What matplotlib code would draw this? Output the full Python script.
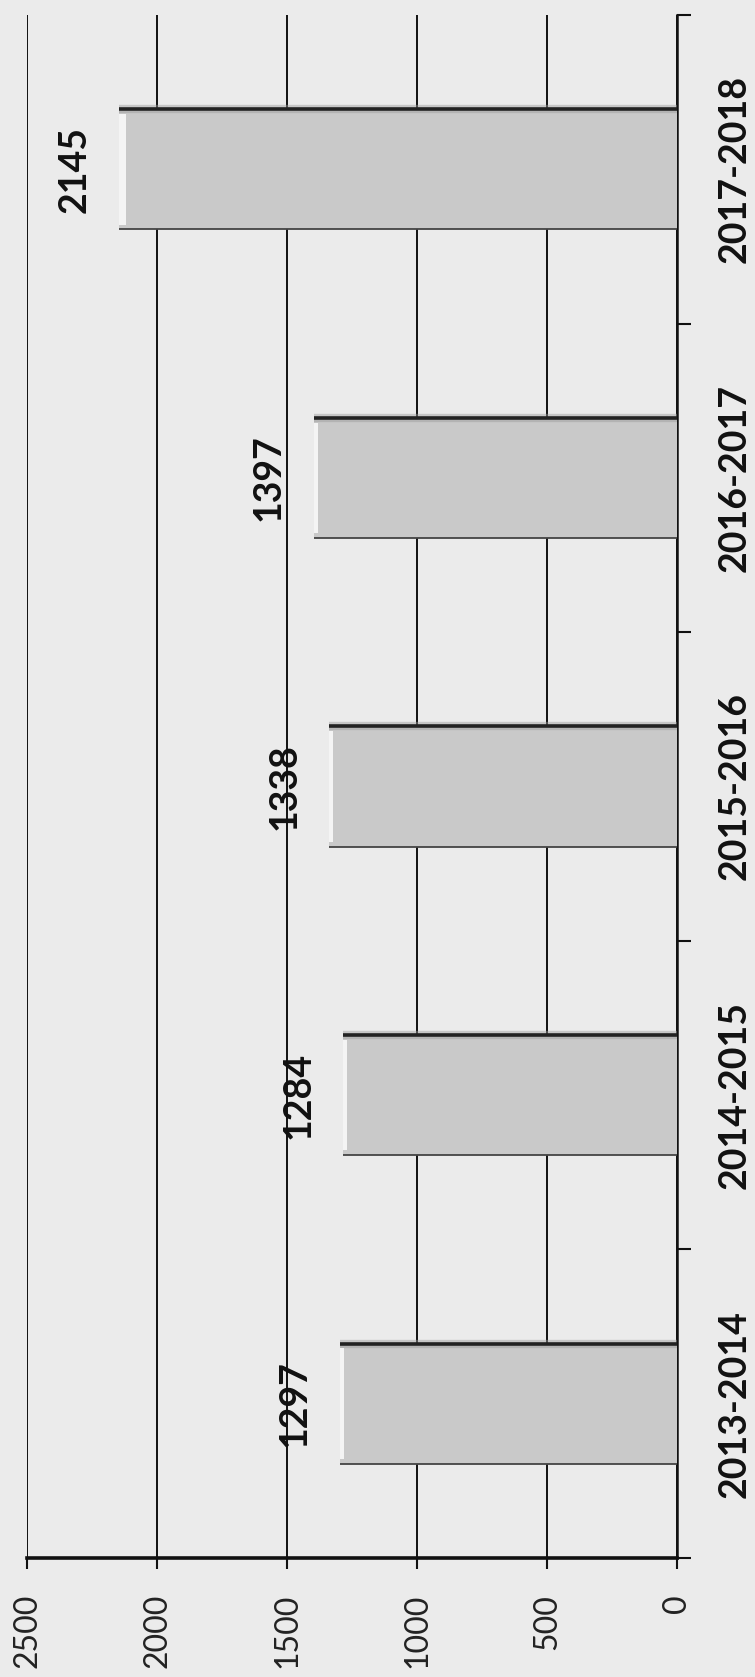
import matplotlib
matplotlib.use("Agg")
import matplotlib.pyplot as plt
from matplotlib.ticker import FixedLocator, NullFormatter

# ---- data ----
categories = ["2013-2014", "2014-2015", "2015-2016", "2016-2017", "2017-2018"]
values = [1297, 1284, 1338, 1397, 2145]
value_ticks = [0, 500, 1000, 1500, 2000, 2500]
value_tick_labels = ["0", "500", "1000", "1500", "2000", "2500"]

W, H, DPI = 755, 1677, 100
bg = "#ebebeb"
fig = plt.figure(figsize=(W / DPI, H / DPI), dpi=DPI, facecolor=bg)
ax = fig.add_axes([27 / W, (H - 1558) / H, (677 - 27) / W, (1558 - 15) / H])
ax.set_facecolor(bg)

ypos = list(range(len(categories)))
bar_h = 0.39
bars = ax.barh(ypos, values, height=bar_h, color="#c9c9c9", edgecolor="none", zorder=3)

# 3D-ish bar edges derived from the patches
for p in bars:
    x0, y0 = p.get_x(), p.get_y()
    w, h = p.get_width(), p.get_height()
    # top (dark, with soft shadow)
    ax.plot([x0, x0 + w], [y0 + h, y0 + h], color="#9a9a9a", lw=6, alpha=0.45,
            solid_capstyle="butt", zorder=4)
    ax.plot([x0, x0 + w], [y0 + h, y0 + h], color="#222222", lw=2.6,
            solid_capstyle="butt", zorder=5)
    # bottom edge
    ax.plot([x0, x0 + w], [y0, y0], color="#444444", lw=1.3,
            solid_capstyle="butt", zorder=5)
    # light highlight at the bar end
    ax.barh(p.get_y() + h / 2, w * 0.012, left=x0 + w * 0.988, height=h * 0.92,
            color="#f4f4f4", edgecolor="none", zorder=4)

# value labels
for yv, v in zip(ypos, values):
    ax.annotate(f"{v}", xy=(v, yv), xytext=(-20, 0), textcoords="offset points",
                rotation=90, ha="right", va="center", fontsize=27,
                fontweight="bold", family="Lato", color="#111111", zorder=6)

ax.set_xlim(2500, 0)
ax.set_ylim(-0.5, len(categories) - 0.5)

# value axis (bottom)
ax.set_xticks(value_ticks)
ax.set_xticklabels(value_tick_labels, rotation=90, fontsize=23, family="Lato",
                   color="#222222")
ax.tick_params(axis="x", direction="out", length=8, width=1.5, pad=18,
               color="#111111")
for lbl in ax.get_xticklabels():
    lbl.set_va("top")

# category axis on right
ax.yaxis.tick_right()
ax.set_yticks(ypos)
ax.set_yticklabels(categories, rotation=90, fontsize=27, fontweight="bold",
                   family="Lato", color="#111111", va="center")
ax.tick_params(axis="y", which="major", length=0, pad=29)
ax.yaxis.set_minor_locator(FixedLocator([i - 0.5 for i in range(len(categories) + 1)]))
ax.yaxis.set_minor_formatter(NullFormatter())
ax.tick_params(axis="y", which="minor", direction="out", length=10, width=1.5,
               color="#111111", right=True, left=False)

# gridlines
ax.grid(axis="x", color="#111111", lw=1.4, zorder=1)
ax.set_axisbelow(True)

for s in ["top", "left"]:
    ax.spines[s].set_visible(False)
ax.spines["bottom"].set_linewidth(2.6)
ax.spines["bottom"].set_color("#111111")
ax.spines["right"].set_linewidth(1.8)
ax.spines["right"].set_color("#111111")

fig.savefig("out.png", dpi=DPI, facecolor=bg)
